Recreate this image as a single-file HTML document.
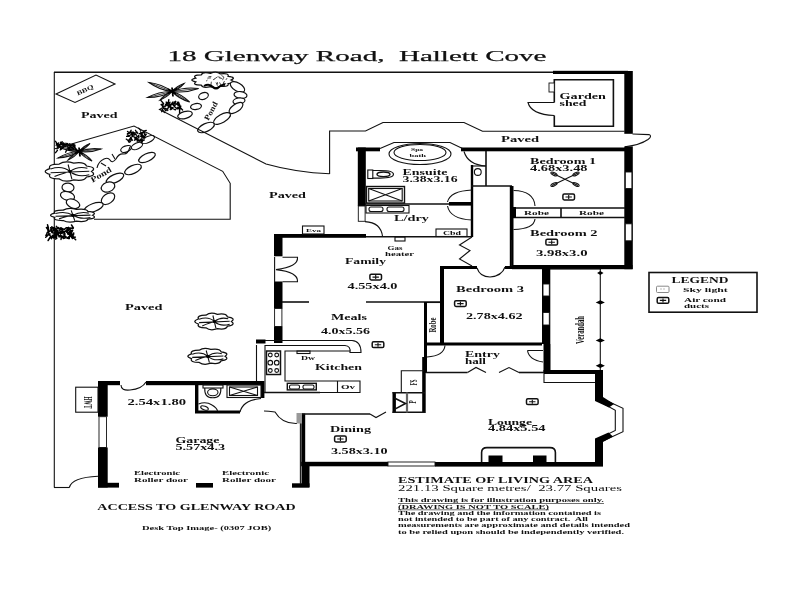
<!DOCTYPE html>
<html>
<head>
<meta charset="utf-8">
<title>18 Glenway Road, Hallett Cove</title>
<style>
html,body{margin:0;padding:0;background:#fff;}
body{width:800px;height:600px;overflow:hidden;font-family:"Liberation Serif",serif;}
svg{display:block;filter:blur(0.35px);}
text{font-family:"Liberation Serif",serif;fill:#111;}
.b{font-weight:bold;}
.w{fill:#000;stroke:none;}
.l{fill:none;stroke:#111;stroke-width:1.1;}
.m{fill:none;stroke:#111;stroke-width:1.6;}
.k{fill:none;stroke:#000;stroke-width:2.4;}
.wh{fill:#fff;stroke:#111;stroke-width:0.9;}
.st{fill:#fff;stroke:#111;stroke-width:1.2;}
</style>
</head>
<body>
<svg width="800" height="600" viewBox="0 0 800 600">
<rect x="0" y="0" width="800" height="600" fill="#fff"/>

<!-- TITLE -->
<text x="167.5" y="61" font-size="15.5" stroke="#111" stroke-width="0.25" textLength="379" lengthAdjust="spacingAndGlyphs" xml:space="preserve">18 Glenway Road,  Hallett Cove</text>

<!-- SITE BOUNDARY -->
<g id="site">
<path class="m" d="M54 72.3 H626"/>
<path class="l" d="M54.3 72 V487.5" stroke-width="1.35"/>
<path class="l" d="M54 487.5 H69.5"/>
<path class="l" d="M69.3 487.5 Q72 477.5 98 476.3"/>
</g>

<!-- SECTION: GARDEN -->
<g id="garden">
<path d="M231.0 80.0 Q237.0 82.6 228.1 83.6 Q229.4 87.1 220.5 86.1 Q216.6 89.3 210.4 86.7 Q202.6 88.5 201.2 85.1 Q191.9 85.1 195.7 81.9 Q188.0 80.0 195.7 78.1 Q191.9 74.9 201.2 74.9 Q202.6 71.5 210.4 73.3 Q216.6 70.7 220.5 73.9 Q229.4 72.9 228.1 76.4 Q237.0 77.4 231.0 80.0Z" fill="#fff" stroke="#111" stroke-width="1.25"/>
<path d="M207.2 80.3 l-0.8 0.6 M217.3 77.0 l-2.9 2.0 M207.7 78.1 l3.0 -0.2 M222.7 79.8 l0.8 -2.1 M217.5 82.6 l0.1 1.4 M218.5 76.9 l1.5 0.5 M208.8 76.7 l2.2 -0.2 M219.7 82.7 l1.3 2.5 M211.3 82.1 l-0.3 2.6 M223.9 77.2 l-2.2 -1.7 M226.1 79.6 l0.8 -1.2 M214.2 79.2 l-0.9 0.5 M216.2 82.8 l1.1 2.6 M223.3 83.4 l1.0 -2.0 M223.4 83.3 l2.4 0.4 M219.6 78.0 l2.0 0.4" stroke="#000" stroke-width="0.7" fill="none" stroke-linecap="round"/>
<ellipse class="st" cx="237.5" cy="87" rx="8" ry="4" transform="rotate(30 237.5 87)"/>
<ellipse class="st" cx="240.5" cy="95" rx="6.5" ry="3.4" transform="rotate(8 240.5 95)"/>
<ellipse class="st" cx="239" cy="101" rx="6" ry="3" transform="rotate(-8 239 101)"/>
<ellipse class="st" cx="236" cy="108" rx="8" ry="3.8" transform="rotate(-35 236 108)"/>
<ellipse class="st" cx="222" cy="118.5" rx="9.5" ry="4" transform="rotate(-30 222 118.5)"/>
<ellipse class="st" cx="206" cy="127.5" rx="9" ry="4" transform="rotate(-25 206 127.5)"/>
<ellipse class="st" cx="185" cy="115" rx="7.5" ry="3.5" transform="rotate(-15 185 115)"/>
<ellipse class="st" cx="196" cy="106.5" rx="5.5" ry="3" transform="rotate(-10 196 106.5)"/>
<ellipse class="st" cx="203.5" cy="96" rx="5" ry="3.3" transform="rotate(-20 203.5 96)"/>
<path d="M204 86 q5 -3 9 1 q3 3 6 0 q3 -3 6 -2" stroke="#000" stroke-width="2" fill="none"/>
<path d="M172 91.5 Q161.7 84.0 149 82.5 Q159.3 90.0 172 91.5Z" fill="#fff" stroke="#111" stroke-width="1.15"/><path d="M172 91.5 L149 82.5" stroke="#111" stroke-width="0.8" fill="none"/><path d="M172 91.5 Q159.0 91.3 147.5 97.5 Q160.5 97.7 172 91.5Z" fill="#fff" stroke="#111" stroke-width="1.15"/><path d="M172 91.5 L147.5 97.5" stroke="#111" stroke-width="0.8" fill="none"/><path d="M172 91.5 Q185.6 93.4 198.5 88.5 Q184.9 86.6 172 91.5Z" fill="#fff" stroke="#111" stroke-width="1.15"/><path d="M172 91.5 L198.5 88.5" stroke="#111" stroke-width="0.8" fill="none"/><path d="M172 91.5 Q179.4 99.0 189.5 102 Q182.1 94.5 172 91.5Z" fill="#fff" stroke="#111" stroke-width="1.15"/><path d="M172 91.5 L189.5 102" stroke="#111" stroke-width="0.8" fill="none"/><path d="M172 91.5 Q179.0 89.1 184 83.5 Q177.0 85.9 172 91.5Z" fill="#fff" stroke="#111" stroke-width="1.15"/><path d="M172 91.5 L184 83.5" stroke="#111" stroke-width="0.8" fill="none"/><path d="M172 91.5 Q164.9 94.2 160 100 Q167.1 97.3 172 91.5Z" fill="#fff" stroke="#111" stroke-width="1.15"/><path d="M172 91.5 L160 100" stroke="#111" stroke-width="0.8" fill="none"/><path d="M168 89.0 L176 94.0 M168 93.5 L177 88.5 M172 87.5 L173 96.5" stroke="#000" stroke-width="1.8" fill="none"/>
<path d="M167.7 102.5 l2.1 2.9 M163.8 108.4 l-0.5 -2.1 M167.9 108.2 l2.2 -2.7 M174.3 102.4 l1.3 -1.0 M179.6 109.8 l0.0 3.0 M168.2 102.6 l0.6 -2.8 M165.9 105.3 l0.7 -2.1 M162.8 108.9 l-1.1 2.8 M179.9 105.0 l-0.2 0.1 M174.9 106.8 l0.4 0.7 M180.8 106.1 l-0.4 1.3 M166.8 104.4 l2.9 0.1 M173.0 102.1 l-0.5 0.5 M162.4 106.9 l0.8 -2.6 M174.5 105.7 l1.1 -0.9 M176.1 107.9 l-2.9 -2.6 M175.5 109.7 l-1.5 -0.3 M173.9 104.6 l-0.8 -1.1 M169.4 106.8 l-1.2 -0.7 M177.4 102.2 l0.4 1.4 M168.2 103.8 l1.8 -1.6 M165.7 105.5 l1.2 -2.4 M168.4 104.7 l2.0 -0.4 M179.1 103.4 l-1.0 0.9 M179.7 105.6 l-1.6 -2.3 M172.6 103.5 l1.8 2.0 M165.7 104.2 l1.8 0.9 M178.1 104.8 l-2.2 -1.2 M177.9 104.2 l-0.9 -0.5 M170.4 105.3 l2.5 -2.1 M162.1 109.5 l2.3 2.9 M170.7 109.6 l2.6 -1.7 M176.9 108.7 l1.0 0.1 M167.8 104.7 l-1.6 -2.6 M173.8 104.3 l1.9 -2.7 M180.1 107.5 l2.5 2.4 M180.0 106.6 l-2.9 1.5 M165.4 104.4 l1.0 0.1 M170.3 109.5 l0.7 -1.0 M167.0 108.9 l-0.1 1.7 M169.0 103.6 l0.2 1.9 M165.4 108.3 l2.5 1.8 M178.5 102.1 l0.8 2.2 M163.0 104.2 l-1.4 0.2 M170.5 105.8 l1.7 -3.0 M163.1 103.0 l-2.3 -2.6 M181.5 108.8 l-2.5 0.0 M168.3 104.5 l-0.9 0.9 M173.7 104.9 l-1.9 -1.0 M164.5 106.4 l1.3 -0.7 M163.6 103.4 l-0.8 0.6 M177.7 105.0 l1.8 0.7 M170.6 105.0 l-0.0 1.2 M170.4 107.6 l-0.2 -1.5 M172.7 107.6 l-2.6 -0.5 M170.5 109.0 l2.6 -0.8 M180.0 108.3 l-1.4 -0.2 M164.5 108.5 l1.0 2.3 M177.8 107.3 l1.4 0.4 M164.1 106.7 l-3.0 -2.1" stroke="#000" stroke-width="1.4" fill="none" stroke-linecap="round"/>
<text x="201" y="113.6" font-size="8" class="b" textLength="20" lengthAdjust="spacingAndGlyphs" transform="rotate(-62 211 111)">Pond</text>
<ellipse class="st" cx="148" cy="139.5" rx="7" ry="3" transform="rotate(-25 148 139.5)"/>
<ellipse class="st" cx="137" cy="146" rx="6" ry="3" transform="rotate(-25 137 146)"/>
<ellipse class="st" cx="126" cy="149" rx="5.5" ry="3" transform="rotate(-20 126 149)"/>
<ellipse class="st" cx="147" cy="157.5" rx="9" ry="3.8" transform="rotate(-25 147 157.5)"/>
<ellipse class="st" cx="133" cy="169.5" rx="9" ry="4" transform="rotate(-25 133 169.5)"/>
<ellipse class="st" cx="115" cy="178.5" rx="9.5" ry="4" transform="rotate(-25 115 178.5)"/>
<ellipse class="st" cx="108" cy="187" rx="7" ry="4.8" transform="rotate(-20 108 187)"/>
<ellipse class="st" cx="108" cy="198.7" rx="7.5" ry="4.8" transform="rotate(-35 108 198.7)"/>
<ellipse class="st" cx="93.7" cy="207.5" rx="10" ry="4" transform="rotate(-20 93.7 207.5)"/>
<ellipse class="st" cx="68" cy="187.5" rx="6" ry="4.4" transform="rotate(5 68 187.5)"/>
<ellipse class="st" cx="67.5" cy="196" rx="7.2" ry="4.3" transform="rotate(15 67.5 196)"/>
<ellipse class="st" cx="73" cy="203.7" rx="7" ry="4.3" transform="rotate(22 73 203.7)"/>
<path d="M141.0 130.5 l-2.4 -2.4 M143.1 132.1 l-2.9 2.0 M127.9 140.1 l1.0 2.0 M144.5 136.9 l1.8 -2.8 M140.8 136.1 l1.3 -2.4 M140.5 141.2 l-2.6 -1.1 M136.8 139.9 l-1.5 -1.9 M130.5 137.4 l1.5 -0.6 M132.8 134.8 l-0.9 -0.5 M127.2 136.0 l2.8 -0.5 M140.4 131.9 l1.1 1.5 M139.0 136.2 l-0.1 0.9 M143.4 131.8 l-2.4 1.5 M143.8 136.2 l-0.3 1.3 M129.2 133.2 l-1.8 0.5 M131.8 132.8 l1.1 2.7 M131.4 138.5 l-0.5 2.1 M137.2 133.2 l-1.7 -2.9 M135.1 134.6 l-2.0 -0.8 M131.9 139.3 l-2.1 2.9 M135.1 137.2 l-0.2 2.0 M141.9 136.7 l-0.1 1.3 M142.6 134.8 l1.4 2.8 M134.8 132.8 l-1.6 1.3 M139.0 141.5 l2.1 -1.5 M129.3 133.1 l-1.9 1.2 M142.7 140.8 l-1.5 2.2 M131.8 135.1 l1.4 -2.5 M127.4 140.0 l-1.2 -0.9 M137.1 138.1 l-3.0 -1.0 M134.2 135.8 l-1.7 0.5 M144.6 134.7 l0.3 -2.3 M131.0 138.0 l-2.3 2.3 M143.7 131.2 l2.6 -0.8 M140.9 139.1 l-1.2 1.1 M138.6 139.7 l-1.4 1.5 M144.7 138.1 l0.2 -2.3 M135.4 134.2 l1.3 1.1 M136.8 132.2 l0.9 0.8 M129.1 140.7 l0.9 -2.3 M144.1 131.7 l-1.0 1.3 M137.4 136.7 l0.9 -0.3 M131.7 132.1 l-2.6 1.3 M140.6 136.5 l1.4 -0.8 M130.8 134.6 l2.2 -2.7 M135.6 133.0 l1.6 -0.9 M132.2 134.8 l0.2 1.6 M132.6 140.2 l-2.3 -1.4 M127.5 131.4 l1.7 1.4 M129.2 132.3 l-0.5 1.5 M141.8 139.0 l0.6 -2.1 M133.5 132.3 l0.2 0.4 M129.5 133.0 l1.7 -2.8 M141.6 140.7 l2.7 -0.7 M136.6 137.0 l0.8 2.9 M139.2 133.6 l2.2 -0.1 M137.5 138.7 l-3.0 1.6 M138.7 135.9 l0.1 -0.2 M129.4 136.4 l-2.8 0.0 M138.4 135.3 l0.4 2.8" stroke="#000" stroke-width="1.3" fill="none" stroke-linecap="round"/>
<path d="M79 151.5 Q68.7 145.9 57 146 Q67.3 151.6 79 151.5Z" fill="#fff" stroke="#111" stroke-width="1.15"/><path d="M79 151.5 L57 146" stroke="#111" stroke-width="0.8" fill="none"/><path d="M79 151.5 Q90.3 153.1 101 149 Q89.7 147.4 79 151.5Z" fill="#fff" stroke="#111" stroke-width="1.15"/><path d="M79 151.5 L101 149" stroke="#111" stroke-width="0.8" fill="none"/><path d="M79 151.5 Q84.3 157.9 92 161 Q86.7 154.6 79 151.5Z" fill="#fff" stroke="#111" stroke-width="1.15"/><path d="M79 151.5 L92 161" stroke="#111" stroke-width="0.8" fill="none"/><path d="M79 151.5 Q67.7 152.0 58 158 Q69.3 157.5 79 151.5Z" fill="#fff" stroke="#111" stroke-width="1.15"/><path d="M79 151.5 L58 158" stroke="#111" stroke-width="0.8" fill="none"/><path d="M79 151.5 Q85.5 148.9 90 143.5 Q83.5 146.1 79 151.5Z" fill="#fff" stroke="#111" stroke-width="1.15"/><path d="M79 151.5 L90 143.5" stroke="#111" stroke-width="0.8" fill="none"/><path d="M79 151.5 Q72.4 154.3 68 160 Q74.6 157.2 79 151.5Z" fill="#fff" stroke="#111" stroke-width="1.15"/><path d="M79 151.5 L68 160" stroke="#111" stroke-width="0.8" fill="none"/><path d="M75 149.0 L83 154.0 M75 153.5 L84 148.5 M79 147.5 L80 156.5" stroke="#000" stroke-width="1.8" fill="none"/>
<path d="M73.1 144.4 l1.8 0.7 M57.9 146.0 l-1.6 -2.5 M66.7 150.0 l-1.1 2.2 M69.5 144.4 l2.1 0.6 M73.7 148.5 l1.4 -0.9 M71.5 150.0 l2.2 -0.4 M70.6 146.9 l-2.3 -2.7 M58.4 144.9 l-2.0 -0.0 M69.6 147.3 l-0.5 0.9 M62.5 146.8 l1.5 -0.6 M60.3 149.8 l1.3 -0.8 M63.7 147.2 l0.6 -1.7 M57.0 145.0 l1.7 -2.1 M65.3 144.9 l-1.7 -2.0 M64.3 144.7 l-2.8 -2.3 M60.0 146.9 l-2.6 -2.9 M65.1 146.4 l1.2 -2.7 M64.3 146.3 l-2.8 2.8 M60.9 144.2 l-0.2 -2.0 M68.2 145.9 l-2.3 -2.7 M70.1 145.4 l1.7 -0.2 M73.8 145.6 l-1.5 -1.4 M71.7 147.9 l-0.9 -2.4 M69.3 150.3 l0.6 -3.0 M57.5 144.1 l-2.0 -2.8 M58.0 148.1 l2.4 -1.8 M74.5 146.8 l1.8 2.5 M73.9 143.7 l-1.2 0.6 M74.0 144.1 l-1.2 2.1 M59.1 146.2 l-1.0 1.1 M73.7 144.7 l1.4 1.4 M72.0 147.4 l2.5 -0.8 M64.5 145.1 l1.7 -0.1 M61.9 144.7 l1.3 0.6 M69.8 146.2 l-0.1 -2.1 M69.8 143.7 l-0.2 1.6 M69.2 144.2 l-1.6 2.1 M68.6 149.6 l2.2 -0.3 M73.1 148.6 l-1.0 -0.8 M58.3 146.3 l2.7 -2.4 M67.2 144.3 l-2.5 0.9 M61.3 143.8 l-2.1 0.9 M67.5 143.6 l-1.6 2.8 M61.0 147.4 l-0.5 1.7 M67.9 149.0 l0.2 -1.9 M60.2 144.1 l2.0 -2.3 M57.4 150.3 l-1.8 2.4 M58.5 146.8 l-1.7 2.0 M68.1 148.0 l1.6 2.2 M63.2 147.7 l-0.3 -2.3" stroke="#000" stroke-width="1.4" fill="none" stroke-linecap="round"/>
<path d="M91.5 171.5 Q97.5 175.5 86.5 177.0 Q84.6 181.5 73.7 179.9 Q64.9 182.9 59.3 178.9 Q47.6 178.9 49.8 174.4 Q40.7 171.5 49.8 168.6 Q47.6 164.1 59.2 164.1 Q64.9 160.1 73.7 163.1 Q84.6 161.5 86.5 166.0 Q97.5 167.5 91.5 171.5Z" fill="#fff" stroke="#111" stroke-width="1.25"/><path d="M50.6 168.9 Q62.3 165.1 70.0 171.5 Q77.7 177.9 89.3 174.7 M54.5 176.6 Q64.2 172.8 70.0 171.5 Q77.7 165.8 87.4 168.3 M68.1 164.5 L71.9 179.2 M50.6 172.8 L89.3 171.2" stroke="#111" stroke-width="1.1" fill="none"/><circle cx="70" cy="171.5" r="1.6" fill="#000"/>
<path class="l" d="M97 168 q1 -6 7 -9 q4 -2 6 1 q2 4 6 -1 q3 -6 8 -5 q4 0 6 -7" stroke-width="1.5"/>
<path class="l" d="M101 163 l5 3 M112 154 l3 5" stroke-width="1.3"/>
<text x="89.5" y="177.3" font-size="8" class="b" textLength="23" lengthAdjust="spacingAndGlyphs" transform="rotate(-30 101 174.6)">Pond</text>
<path d="M92.5 215.3 Q98.0 218.1 87.9 219.2 Q86.3 222.4 76.4 221.2 Q68.4 223.4 63.2 220.5 Q52.6 220.6 54.7 217.4 Q46.4 215.3 54.7 213.2 Q52.6 210.0 63.2 210.1 Q68.4 207.2 76.4 209.4 Q86.3 208.2 87.9 211.4 Q98.0 212.5 92.5 215.3Z" fill="#fff" stroke="#111" stroke-width="1.25"/><path d="M55.5 213.5 Q66.0 210.8 73.0 215.3 Q80.0 219.8 90.5 217.6 M59.0 218.9 Q67.7 216.2 73.0 215.3 Q80.0 211.2 88.8 213.1 M71.2 210.4 L74.8 220.7 M55.5 216.2 L90.5 215.1" stroke="#111" stroke-width="1.1" fill="none"/><circle cx="73" cy="215.3" r="1.6" fill="#000"/>
<path d="M69.4 234.0 l1.9 -1.8 M61.1 232.6 l1.4 -2.5 M55.7 232.8 l-2.6 0.3 M66.6 232.2 l0.9 0.6 M52.0 231.4 l3.0 -1.0 M58.1 228.4 l-1.7 -2.0 M72.1 235.5 l2.2 2.9 M63.1 237.7 l0.2 -0.5 M72.5 237.4 l2.7 -0.1 M67.7 232.0 l3.0 2.5 M54.2 237.8 l-1.9 -2.4 M66.2 230.7 l0.1 0.8 M47.1 235.7 l-1.3 -0.4 M55.7 235.7 l1.5 -1.3 M48.9 230.8 l-0.5 -2.5 M50.3 235.9 l1.2 2.9 M73.4 237.1 l-0.8 -2.0 M54.7 232.6 l0.2 0.3 M56.1 236.9 l-1.3 -0.2 M70.8 236.4 l-1.2 -1.5 M68.6 227.6 l-2.2 0.2 M61.0 229.3 l-2.7 -1.8 M67.6 232.6 l2.9 1.7 M73.4 227.9 l-1.9 -2.9 M58.1 231.2 l-2.7 0.3 M48.6 230.9 l-1.5 1.8 M57.7 230.4 l-2.7 -0.4 M63.6 234.9 l2.5 1.9 M52.9 229.0 l1.5 1.7 M60.2 236.6 l0.3 -1.3 M50.7 227.7 l0.9 2.4 M71.4 232.6 l1.0 2.6 M68.8 234.1 l-0.5 0.1 M50.8 229.5 l1.1 3.0 M61.3 232.0 l-0.9 -0.3 M68.5 232.5 l2.8 -2.1 M54.8 233.2 l-0.5 2.1 M69.2 237.7 l0.7 -2.8 M62.1 233.5 l-0.1 -1.3 M65.9 237.5 l-2.4 1.0 M56.4 233.2 l2.4 2.8 M64.0 229.6 l2.5 -1.9 M56.7 236.6 l-1.1 -1.4 M72.6 237.9 l-1.1 -0.6 M53.9 228.9 l-1.5 2.9 M48.2 230.0 l-1.8 -2.5 M60.7 235.7 l2.0 0.8 M68.9 227.6 l-1.3 2.8 M47.9 230.4 l-0.1 -1.4 M61.3 228.0 l-1.6 2.7 M50.0 237.5 l-1.9 3.0 M64.9 234.6 l-2.1 -2.7 M67.3 229.4 l-1.9 1.9 M70.5 228.0 l2.8 0.2 M56.7 228.7 l-0.7 2.9 M53.9 228.9 l-2.1 -2.2 M55.9 237.6 l-2.5 -1.8 M72.3 238.5 l2.9 -1.5 M55.9 238.0 l-0.1 1.2 M54.8 227.7 l-0.9 1.5 M67.9 233.8 l-0.2 0.2 M58.4 233.4 l2.0 -1.8 M62.6 237.8 l2.1 -1.9 M73.0 236.7 l-2.0 -1.4 M51.7 228.1 l2.9 -0.5 M70.4 228.8 l-2.9 2.2 M68.2 238.4 l1.1 0.2 M67.4 228.5 l0.2 -0.4 M50.1 234.1 l-1.1 0.0 M56.5 231.0 l-0.8 0.6 M73.5 237.8 l2.2 2.0 M54.0 238.2 l-1.4 -2.3 M60.0 235.6 l-1.0 0.9 M53.9 238.1 l-0.3 -0.1 M60.9 237.1 l2.9 0.2 M58.4 234.3 l-2.6 -0.4 M69.7 236.1 l-2.6 2.1 M56.8 238.3 l-0.8 -1.7 M61.4 237.2 l-0.4 2.2 M65.9 231.5 l-1.2 0.0 M57.2 231.6 l0.9 2.3 M62.4 229.1 l-1.7 -0.8 M63.2 229.0 l-2.5 -1.1 M53.9 227.8 l0.2 2.5 M61.0 235.6 l2.0 2.0 M71.6 232.4 l1.1 -2.3 M70.6 231.7 l-0.1 2.3 M54.0 229.6 l1.9 0.6 M48.4 227.8 l-0.9 -3.0 M69.3 229.5 l-1.4 -0.7 M60.3 232.3 l0.8 1.0 M58.2 228.6 l2.9 1.1 M48.3 232.4 l1.5 3.0 M47.8 227.6 l-0.1 -0.5 M71.0 236.6 l-1.0 -0.5 M62.3 237.2 l-1.8 -0.6 M48.5 234.6 l-2.8 2.6 M60.7 233.8 l-2.5 -1.6 M59.1 236.9 l0.2 -1.3 M73.5 234.8 l0.2 -1.8 M54.4 237.4 l-2.2 0.2 M63.4 231.4 l1.6 2.5 M70.0 235.6 l-1.8 -2.6 M58.1 230.9 l-1.8 2.2 M52.0 236.6 l2.6 -2.3 M71.6 231.9 l-1.7 -1.9 M47.1 233.0 l-0.7 2.1 M69.3 228.1 l-0.6 -0.7 M51.0 230.3 l-1.4 1.2 M55.5 228.7 l-1.7 -0.3" stroke="#000" stroke-width="1.5" fill="none" stroke-linecap="round"/>
<path d="M231.4 321.5 Q236.2 324.9 227.4 326.2 Q226.0 330.1 217.4 328.7 Q210.4 331.3 205.9 327.8 Q196.7 327.9 198.4 324.0 Q191.2 321.5 198.4 319.0 Q196.7 315.1 205.9 315.2 Q210.4 311.7 217.4 314.3 Q226.0 312.9 227.4 316.8 Q236.2 318.1 231.4 321.5Z" fill="#fff" stroke="#111" stroke-width="1.25"/><path d="M199.1 319.3 Q208.3 316.0 214.4 321.5 Q220.5 327.0 229.7 324.2 M202.2 325.9 Q209.8 322.6 214.4 321.5 Q220.5 316.6 228.2 318.8 M212.9 315.5 L215.9 328.1 M199.1 322.6 L229.7 321.2" stroke="#111" stroke-width="1.1" fill="none"/><circle cx="214.4" cy="321.5" r="1.6" fill="#000"/>
<path d="M225.1 356.3 Q230.0 359.6 221.1 360.8 Q219.6 364.6 210.8 363.2 Q203.7 365.7 199.2 362.4 Q189.7 362.4 191.5 358.7 Q184.2 356.3 191.5 353.9 Q189.7 350.2 199.2 350.2 Q203.7 346.9 210.8 349.4 Q219.6 348.0 221.1 351.8 Q230.0 353.0 225.1 356.3Z" fill="#fff" stroke="#111" stroke-width="1.25"/><path d="M192.2 354.2 Q201.6 351.1 207.8 356.3 Q214.0 361.6 223.4 358.9 M195.3 360.5 Q203.1 357.4 207.8 356.3 Q214.0 351.6 221.8 353.7 M206.2 350.5 L209.4 362.6 M192.2 357.4 L223.4 356.0" stroke="#111" stroke-width="1.1" fill="none"/><circle cx="207.8" cy="356.3" r="1.6" fill="#000"/>
</g>

<!-- SECTION: PAVED OUTLINE -->
<g id="paved">
<!-- paved lane outline north of house -->
<path class="l" d="M329.6 174 V131 H365.5 L383 122.5 H464 L482.5 131.3 H624.5"/>
<!-- bed 1 diagonal -->
<path class="l" d="M170 103.5 L159.5 109.5 L266 164 Q296 172.5 329.6 173.7"/>
<!-- bed 2 outline -->
<path class="l" d="M54 149 L134 126 L222.7 171.3 L230.2 183.3 V219.2 H94" stroke-width="1.3"/>
<!-- BBQ -->
<path class="l" d="M56 94 L96 75 L115 84 L75 102.5 Z"/>
<text x="85" y="92" font-size="6" text-anchor="middle" transform="rotate(-25 85 90)" textLength="18" lengthAdjust="spacingAndGlyphs" class="b">BBQ</text>
</g>

<!-- SECTION: SHED -->
<g id="shed">
<path class="m" d="M554.3 102.5 V79.7 H613.4 V126.2 H554.3 V115.5"/>
<rect class="wh" x="549" y="83" width="5.3" height="9" stroke-width="1.2"/>
<path class="l" d="M554.3 102.5 H528 Q531 114.5 554.3 115.5" stroke-width="1.3"/>
<!-- gate arc at east end of lane -->
<path class="l" d="M632.5 134 L649 134.6 Q652.5 136 648 139.5 Q640 145 625 146.8" stroke-width="1.3"/>
</g>

<!-- SECTION: WALLS -->
<g id="walls">
<!-- east boundary / right thick wall -->
<rect class="w" x="624.3" y="71" width="8.5" height="62.8"/>
<rect class="w" x="553" y="70.8" width="75" height="3.2"/>
<rect class="w" x="624.3" y="146.4" width="8.5" height="122.8"/>
<rect class="wh" x="625.3" y="172" width="6.6" height="16.5" stroke="#555"/>
<rect class="wh" x="625.3" y="223.8" width="6.6" height="17" stroke="#555"/>
<!-- north wall of house -->
<rect class="w" x="356" y="147.5" width="24" height="3.8"/>
<rect class="w" x="461" y="147.5" width="171" height="3.8"/>
<!-- ensuite west wall -->
<rect class="w" x="357.8" y="147.5" width="8" height="58.5"/>
<rect class="wh" x="358.3" y="206" width="6.8" height="15.3"/>
<!-- ensuite / laundry partition -->
<path class="m" d="M365 204 H449"/>
<rect class="w" x="449" y="202" width="23" height="3.6"/>
<!-- bedroom2 south wall -->
<rect class="w" x="512" y="265" width="120.5" height="4.2"/>
<!-- family north wall -->
<rect class="w" x="274" y="234" width="92" height="3.8"/>
<path class="m" d="M366 236.8 H471"/>
<!-- family west wall -->
<rect class="w" x="274" y="234" width="8.5" height="22.3"/>
<rect class="w" x="274" y="281.5" width="8.5" height="27"/>
<rect class="wh" x="274.6" y="308.5" width="7.3" height="18"/>
<rect class="w" x="274" y="326.5" width="8.5" height="16.5"/>
<!-- family/meals stubs -->
<path class="m" d="M282 302 H309"/>
<path class="m" d="M366 302 H440"/>
<!-- hall walls -->
<path class="k" d="M472 186 V237"/>
<path class="k" d="M472 186 V165"/>
<path class="m" d="M486 151 V186"/>
<path class="m" d="M471 186 H512"/>
<rect class="w" x="509.8" y="186" width="3.7" height="80"/>
<!-- robes -->
<path class="m" d="M513 208 H625 M513 217.5 H625 M561 208 V217.5"/>
<rect class="w" x="513" y="207" width="3" height="11"/>
<!-- bedroom 3 -->
<rect class="w" x="440" y="266" width="37" height="3"/>
<rect class="w" x="505" y="266" width="40" height="3"/>
<rect class="w" x="440" y="266" width="4" height="78"/>
<rect class="w" x="424" y="342.5" width="118" height="3"/>
<rect class="w" x="542" y="266" width="8.3" height="78"/>
<rect class="wh" x="543" y="284" width="6.3" height="12"/>
<rect class="wh" x="543" y="312.5" width="6.3" height="12.5"/>
<rect class="w" x="543.5" y="344" width="7" height="28"/>
<!-- robe bed3 -->
<rect class="w" x="424" y="302" width="3" height="71"/>
<path class="l" d="M427 302.5 H440"/>
<!-- verandah -->
<path class="l" d="M550 269 H601"/>
<path class="l" d="M600.3 269 V370" stroke-width="1.4"/>
<path class="w" d="M600.3 271 l3.2 2 l-3.2 2 l-3.2 -2z M600.3 300.2 l4.6 2.2 l-4.6 2.2 l-4.6 -2.2z M600.3 338.2 l4.6 2.2 l-4.6 2.2 l-4.6 -2.2z M600.3 363.6 l4.6 2.2 l-4.6 2.2 l-4.6 -2.2z"/>
<rect class="w" x="543.5" y="370" width="59.5" height="4"/>
<path class="l" d="M544 374 V382.5 H595"/>
<!-- lounge east wall + bay -->
<rect class="w" x="595" y="370" width="8" height="29"/>
<rect class="w" x="595" y="440" width="8" height="26"/>
<path class="l" d="M603 399 L623 408.3 V431.7 L603.5 440.7" stroke-width="1.7"/>
<path class="l" d="M596 399.5 L615.3 410.2 V430.4 L597 439.5" stroke-width="1.7"/>
<path class="w" d="M595 397 L603 397 L614 404 L609 407.5 L595 401Z"/>
<path class="w" d="M595 442 L603 442 L613 436.5 L608.5 432.5 L595 438.5Z"/>
<!-- lounge south wall -->
<rect class="w" x="435" y="462" width="168" height="4.6"/>
<rect class="w" x="301.3" y="461.8" width="87" height="4.5"/>
<rect class="wh" x="388" y="462" width="47" height="4"/>
<!-- dining west wall -->
<rect class="w" x="301.3" y="413.5" width="3.9" height="52"/>
<path class="m" d="M300 414 H370"/>
<path class="l" d="M370 414 L376 417.5 L386 412"/>
<!-- entry hall -->
<path class="m" d="M426 372.5 H467.5"/>
<path class="l" d="M467.5 372.5 L476 367.5 L486 372.5"/>
<path class="l" d="M499 372.5 L509 367.5 L519 372.5"/>
<path class="m" d="M519 372.5 H544"/>
<!-- meals/kitchen east wall -->
<rect class="w" x="422.2" y="357" width="3.5" height="56"/>
<!-- FS and P -->
<path class="l" d="M424 370.8 H401.3 V392.5 H424"/>
<rect class="w" x="392.5" y="392" width="3.4" height="21"/>
<path class="m" d="M392.5 392.8 H425 M392.5 412.3 H425" stroke-width="1.9"/>
<path d="M407 392.5 V412.5" stroke="#666" stroke-width="2.2" fill="none"/>
<!-- garage -->
<rect class="w" x="98" y="381" width="22" height="4.2"/>
<rect class="w" x="146" y="381" width="118" height="4.2"/>
<rect class="w" x="98" y="381" width="9.7" height="35.7"/>
<rect class="wh" x="99" y="416.7" width="7.5" height="30.8"/>
<rect class="w" x="98" y="447.5" width="9.7" height="40"/>
<rect class="w" x="98" y="482.8" width="21" height="4.8"/>
<rect class="w" x="196" y="483" width="17" height="4.6"/>
<rect class="w" x="292" y="483.3" width="17.5" height="4.4"/>
<rect class="w" x="301.5" y="465" width="8" height="22"/>
<path class="l" d="M300.4 414 V484"/>
<!-- wc / shower -->
<rect class="w" x="195" y="381" width="3.4" height="32"/>
<rect class="w" x="195" y="410.5" width="45" height="3"/>
<rect class="w" x="261" y="381" width="3.4" height="17"/>
<!-- kitchen -->
<path class="l" d="M256.5 345 V381 M265 392.5 H360 V381 H285 V351 H350"/>
<path class="l" d="M265 345 V392.5"/>
<rect class="w" x="256" y="339.5" width="9.5" height="4"/>
<path class="l" d="M265 340.5 H352 Q361 341 361 352.5 H350 Q351 346 345 345.5 H265"/>
<path class="l" d="M337.5 381 V392.5"/>
<path class="m" d="M264 392.5 H320"/>
</g>

<!-- SECTION: FIXTURES -->
<g id="fixtures">
<!-- spa bath bay -->
<path class="l" d="M380 148.5 L394 142.5 H450 L462.5 148.5"/>
<ellipse class="l" cx="420" cy="154" rx="31" ry="10.5"/>
<ellipse class="l" cx="420" cy="152.5" rx="26" ry="8"/>
<!-- ensuite toilet -->
<rect class="l" x="367.8" y="170" width="5" height="8.5"/>
<path class="l" d="M372.8 170.5 H380 Q393.5 170.5 393.5 174.3 Q393.5 178.1 380 178.1 H372.8"/>
<ellipse cx="383.5" cy="174.3" rx="6.5" ry="2.3" fill="none" stroke="#111" stroke-width="1.4"/>
<!-- ensuite shower -->
<rect x="366.5" y="186.5" width="38" height="16.5" fill="#fff" stroke="#111" stroke-width="1.4"/>
<rect class="l" x="368.7" y="188.5" width="33.5" height="12.5"/>
<path class="l" d="M368.7 188.5 L402.2 201 M402.2 188.5 L368.7 201"/>
<!-- laundry tubs -->
<rect class="l" x="366" y="205.5" width="43" height="7.5"/>
<rect class="l" x="369" y="207" width="14" height="4.5" rx="2"/>
<rect class="l" x="387" y="207" width="17" height="4.5" rx="2"/>
<!-- laundry outside door -->
<path class="l" d="M365 221.6 Q381 222.3 382.6 236.8"/>
<!-- Cbd -->
<rect class="l" x="436" y="229" width="31" height="7.5"/>
<!-- Evap box on family roof -->
<rect class="l" x="302.5" y="226" width="21.5" height="8"/>
<!-- gas heater -->
<rect class="l" x="395" y="237" width="10" height="4"/>
<!-- family double doors -->
<path class="l" d="M274.6 257 V282.5"/>
<path class="l" d="M282.5 257.3 H297.5 Q298.5 267 276 269.6 Q298.5 272 297.5 281.8 H282.5" stroke-width="1.3"/>
<!-- vanity -->
<circle class="l" cx="477.8" cy="172" r="3.4"/>
<path class="l" d="M473 166 H486"/>
<!-- bed1/ensuite door -->
<path class="l" d="M464 151.5 Q468 165 486 166"/>
<!-- hall doors -->
<path class="l" d="M447.5 202 Q450 191 472 190"/>
<path class="l" d="M447.5 206 Q450 219 472 220"/>
<path class="l" d="M513.5 190.5 Q534 191 535 206"/>
<path class="l" d="M535 219 Q534 229 513.5 229.5"/>
<!-- hall bifold zigzag -->
<path class="l" d="M472 237 L459.5 245 L470 250.5 L459.5 259 L472 266"/>
<!-- bed3 door -->
<path class="l" d="M477 268 Q480 277 490 277 Q502 276 505 267"/>
<path class="l" d="M511.5 240 V266"/>
<!-- entry hall doors -->
<path class="l" d="M445 345.5 Q444 356 427 357"/>
<path class="l" d="M527.5 350.5 H543 M527.5 350.5 Q529 360 543 362"/>
<!-- fireplace -->
<path class="m" d="M481.6 462 V452.5 Q481.6 447.6 487 447.6 H550 Q555.4 447.6 555.4 452.5 V462"/>
<rect class="w" x="488.5" y="455.5" width="14" height="7"/>
<rect class="w" x="533" y="455.5" width="13.5" height="7"/>
<!-- P bifold -->
<path class="m" d="M394.4 398 L405.5 403.5 L394.4 409.4" stroke-width="1.8"/>
<!-- garage door (to yard) -->
<path class="l" d="M121 385 Q121 391 130 390 Q142 389 146 382"/>
<!-- HWT -->
<rect class="l" x="75.7" y="387.2" width="22.3" height="25" stroke-width="1.3"/>
<!-- WC -->
<rect class="l" x="203" y="385" width="20" height="3"/>
<path class="l" d="M204.8 388 Q204 397.8 212.8 397.8 Q221.6 397.8 220.8 388"/>
<ellipse class="l" cx="212.8" cy="392.3" rx="5.2" ry="3.4"/>
<path class="l" d="M198.5 404 Q206 401 212 405 Q217 408 217.5 411"/>
<ellipse class="l" cx="204.5" cy="408" rx="4" ry="1.8" transform="rotate(20 204.5 408)"/>
<!-- shower -->
<rect class="l" x="227" y="385" width="34" height="12.5"/>
<rect class="l" x="229.5" y="387" width="28" height="8.5"/>
<path class="l" d="M229.5 387 L257.5 395.5 M257.5 387 L229.5 395.5"/>
<!-- bath doors -->
<path class="l" d="M240 412 Q243 400 261 398.5"/>
<path class="l" d="M264 411 Q268 411 275 412 Q282 424 297 423.5"/>
<rect x="296.5" y="413" width="5.5" height="10.5" fill="#999"/>
<!-- cooktop -->
<rect x="266.5" y="351" width="14" height="23.5" fill="#fff" stroke="#111" stroke-width="1.5"/>
<circle class="l" cx="270.3" cy="355" r="1.9"/><circle class="l" cx="276.7" cy="355" r="1.9"/>
<circle class="l" cx="270.3" cy="362.7" r="2.3"/><circle class="l" cx="276.7" cy="362.7" r="2.3"/>
<circle class="l" cx="270.3" cy="370.5" r="1.9"/><circle class="l" cx="276.7" cy="370.5" r="1.9"/>
<!-- dw -->
<rect class="l" x="297" y="351" width="13" height="2.5"/>
<!-- sink -->
<rect x="287.3" y="383.3" width="29" height="6.6" fill="#fff" stroke="#111" stroke-width="1.4"/>
<rect class="l" x="289.5" y="385" width="10" height="4" rx="1.5"/>
<rect class="l" x="303" y="385" width="11" height="4" rx="1.5"/>
<g transform="translate(568.7 197)"><rect x="-5.8" y="-2.9" width="11.6" height="5.8" rx="1.4" fill="#fff" stroke="#111" stroke-width="1.5"/><path d="M-3.2 0 H3.2 M0 -2 V2" stroke="#111" stroke-width="1.1" fill="none"/></g>
<g transform="translate(551.7 242.2)"><rect x="-5.8" y="-2.9" width="11.6" height="5.8" rx="1.4" fill="#fff" stroke="#111" stroke-width="1.5"/><path d="M-3.2 0 H3.2 M0 -2 V2" stroke="#111" stroke-width="1.1" fill="none"/></g>
<g transform="translate(375.7 277.1)"><rect x="-5.8" y="-2.9" width="11.6" height="5.8" rx="1.4" fill="#fff" stroke="#111" stroke-width="1.5"/><path d="M-3.2 0 H3.2 M0 -2 V2" stroke="#111" stroke-width="1.1" fill="none"/></g>
<g transform="translate(378 344.7)"><rect x="-5.8" y="-2.9" width="11.6" height="5.8" rx="1.4" fill="#fff" stroke="#111" stroke-width="1.5"/><path d="M-3.2 0 H3.2 M0 -2 V2" stroke="#111" stroke-width="1.1" fill="none"/></g>
<g transform="translate(460.4 303.6)"><rect x="-5.8" y="-2.9" width="11.6" height="5.8" rx="1.4" fill="#fff" stroke="#111" stroke-width="1.5"/><path d="M-3.2 0 H3.2 M0 -2 V2" stroke="#111" stroke-width="1.1" fill="none"/></g>
<g transform="translate(532.3 401.7)"><rect x="-5.8" y="-2.9" width="11.6" height="5.8" rx="1.4" fill="#fff" stroke="#111" stroke-width="1.5"/><path d="M-3.2 0 H3.2 M0 -2 V2" stroke="#111" stroke-width="1.1" fill="none"/></g>
<g transform="translate(340.4 439)"><rect x="-5.8" y="-2.9" width="11.6" height="5.8" rx="1.4" fill="#fff" stroke="#111" stroke-width="1.5"/><path d="M-3.2 0 H3.2 M0 -2 V2" stroke="#111" stroke-width="1.1" fill="none"/></g>
<path class="l" d="M552 173 L578 185.5 M578 173 L552 185.5"/><ellipse class="l" cx="554" cy="174" rx="3.4" ry="1.3" transform="rotate(26 554 174)"/><ellipse class="l" cx="576" cy="184.5" rx="3.4" ry="1.3" transform="rotate(26 576 184.5)"/><ellipse class="l" cx="576" cy="174" rx="3.4" ry="1.3" transform="rotate(-26 576 174)"/><ellipse class="l" cx="554" cy="184.5" rx="3.4" ry="1.3" transform="rotate(-26 554 184.5)"/>
</g>

<!-- SECTION: LABELS -->
<g id="labels">
<text x="81" y="117.5" font-size="7.5" textLength="36.5" lengthAdjust="spacingAndGlyphs" class="b" xml:space="preserve">Paved</text>
<text x="269" y="197.9" font-size="7.5" textLength="37" lengthAdjust="spacingAndGlyphs" class="b" xml:space="preserve">Paved</text>
<text x="125" y="310.0" font-size="7.5" textLength="37.5" lengthAdjust="spacingAndGlyphs" class="b" xml:space="preserve">Paved</text>
<text x="501" y="142.0" font-size="7.5" textLength="38" lengthAdjust="spacingAndGlyphs" class="b" xml:space="preserve">Paved</text>
<text x="559.6" y="99.3" font-size="7.5" textLength="46.39999999999998" lengthAdjust="spacingAndGlyphs" class="b" xml:space="preserve">Garden</text>
<text x="559.6" y="105.8" font-size="7.5" textLength="26.799999999999955" lengthAdjust="spacingAndGlyphs" class="b" xml:space="preserve">shed</text>
<text x="411" y="151.2" font-size="5" textLength="12" lengthAdjust="spacingAndGlyphs" class="b" xml:space="preserve">Spa</text>
<text x="409.5" y="157.2" font-size="5" textLength="16.5" lengthAdjust="spacingAndGlyphs" class="b" xml:space="preserve">bath</text>
<text x="402.5" y="175.0" font-size="7.5" textLength="45.0" lengthAdjust="spacingAndGlyphs" class="b" xml:space="preserve">Ensuite</text>
<text x="402.5" y="182.0" font-size="7.5" textLength="55.0" lengthAdjust="spacingAndGlyphs" class="b" xml:space="preserve">3.38x3.16</text>
<text x="394" y="220.5" font-size="7.5" textLength="35" lengthAdjust="spacingAndGlyphs" class="b" xml:space="preserve">L/dry</text>
<text x="443" y="234.8" font-size="5.5" textLength="18" lengthAdjust="spacingAndGlyphs" class="b" xml:space="preserve">Cbd</text>
<text x="387.5" y="249.5" font-size="6" textLength="15.0" lengthAdjust="spacingAndGlyphs" class="b" xml:space="preserve">Gas</text>
<text x="385" y="256.0" font-size="6" textLength="29" lengthAdjust="spacingAndGlyphs" class="b" xml:space="preserve">heater</text>
<text x="345" y="263.5" font-size="7.5" textLength="41" lengthAdjust="spacingAndGlyphs" class="b" xml:space="preserve">Family</text>
<text x="347.5" y="288.5" font-size="7.5" textLength="50.0" lengthAdjust="spacingAndGlyphs" class="b" xml:space="preserve">4.55x4.0</text>
<text x="331" y="320.0" font-size="7.5" textLength="36" lengthAdjust="spacingAndGlyphs" class="b" xml:space="preserve">Meals</text>
<text x="321" y="333.5" font-size="7.5" textLength="49" lengthAdjust="spacingAndGlyphs" class="b" xml:space="preserve">4.0x5.56</text>
<text x="530" y="163.5" font-size="7.5" textLength="66" lengthAdjust="spacingAndGlyphs" class="b" xml:space="preserve">Bedroom 1</text>
<text x="530" y="170.5" font-size="7.5" textLength="57.5" lengthAdjust="spacingAndGlyphs" class="b" xml:space="preserve">4.68x3.48</text>
<text x="524" y="215.0" font-size="6" textLength="25" lengthAdjust="spacingAndGlyphs" class="b" xml:space="preserve">Robe</text>
<text x="579" y="215.0" font-size="6" textLength="25" lengthAdjust="spacingAndGlyphs" class="b" xml:space="preserve">Robe</text>
<text x="530" y="235.5" font-size="7.5" textLength="67.5" lengthAdjust="spacingAndGlyphs" class="b" xml:space="preserve">Bedroom 2</text>
<text x="536" y="255.5" font-size="7.5" textLength="51.5" lengthAdjust="spacingAndGlyphs" class="b" xml:space="preserve">3.98x3.0</text>
<text x="456" y="291.5" font-size="7.5" textLength="68" lengthAdjust="spacingAndGlyphs" class="b" xml:space="preserve">Bedroom 3</text>
<text x="466" y="318.5" font-size="7.5" textLength="56.5" lengthAdjust="spacingAndGlyphs" class="b" xml:space="preserve">2.78x4.62</text>
<text x="425.5" y="328.3" font-size="10" textLength="15" lengthAdjust="spacingAndGlyphs" class="b" transform="rotate(-90 433 325)">Robe</text>
<text x="566.3" y="334.1" font-size="12.5" textLength="28" lengthAdjust="spacingAndGlyphs" class="b" transform="rotate(-90 580.3 330)">Verandah</text>
<text x="465" y="357.0" font-size="7.5" textLength="35" lengthAdjust="spacingAndGlyphs" class="b" xml:space="preserve">Entry</text>
<text x="465" y="363.5" font-size="7.5" textLength="21" lengthAdjust="spacingAndGlyphs" class="b" xml:space="preserve">hall</text>
<text x="410.25" y="386.1" font-size="11" textLength="5.5" lengthAdjust="spacingAndGlyphs" class="b" transform="rotate(-90 413 382.5)">FS</text>
<text x="411.4" y="405.1" font-size="9.5" textLength="3.2" lengthAdjust="spacingAndGlyphs" class="b" transform="rotate(-90 413 402)">P</text>
<text x="488" y="424.8" font-size="7.5" textLength="44" lengthAdjust="spacingAndGlyphs" class="b" xml:space="preserve">Lounge</text>
<text x="488" y="431.1" font-size="7.5" textLength="57.5" lengthAdjust="spacingAndGlyphs" class="b" xml:space="preserve">4.84x5.54</text>
<text x="330" y="431.5" font-size="7.5" textLength="41" lengthAdjust="spacingAndGlyphs" class="b" xml:space="preserve">Dining</text>
<text x="331" y="453.5" font-size="7.5" textLength="56.5" lengthAdjust="spacingAndGlyphs" class="b" xml:space="preserve">3.58x3.10</text>
<text x="315" y="370.0" font-size="7.5" textLength="47" lengthAdjust="spacingAndGlyphs" class="b" xml:space="preserve">Kitchen</text>
<text x="301" y="359.8" font-size="5.5" textLength="14" lengthAdjust="spacingAndGlyphs" class="b" xml:space="preserve">Dw</text>
<text x="341" y="389.3" font-size="5.5" textLength="14" lengthAdjust="spacingAndGlyphs" class="b" xml:space="preserve">Ov</text>
<text x="306" y="232.2" font-size="5" textLength="15" lengthAdjust="spacingAndGlyphs" class="b" xml:space="preserve">Eva</text>
<text x="127.5" y="405.0" font-size="7.5" textLength="58.5" lengthAdjust="spacingAndGlyphs" class="b" xml:space="preserve">2.54x1.80</text>
<text x="175.5" y="443.3" font-size="7.5" textLength="44.0" lengthAdjust="spacingAndGlyphs" class="b" xml:space="preserve">Garage</text>
<text x="175.5" y="450.1" font-size="7.5" textLength="49.5" lengthAdjust="spacingAndGlyphs" class="b" xml:space="preserve">5.57x4.3</text>
<text x="134" y="475.2" font-size="6" textLength="46" lengthAdjust="spacingAndGlyphs" class="b" xml:space="preserve">Electronic</text>
<text x="134" y="482.2" font-size="6" textLength="54" lengthAdjust="spacingAndGlyphs" class="b" xml:space="preserve">Roller door</text>
<text x="222" y="475.2" font-size="6" textLength="47" lengthAdjust="spacingAndGlyphs" class="b" xml:space="preserve">Electronic</text>
<text x="222" y="482.2" font-size="6" textLength="54" lengthAdjust="spacingAndGlyphs" class="b" xml:space="preserve">Roller door</text>
<text x="82.5" y="406.6" font-size="12.5" textLength="12" lengthAdjust="spacingAndGlyphs" class="b" transform="rotate(90 88.5 402.5)">HWT</text>
<text x="97.3" y="509.5" font-size="7.5" textLength="198.3" lengthAdjust="spacingAndGlyphs" class="b" xml:space="preserve">ACCESS TO GLENWAY ROAD</text>
<text x="142" y="529.8" font-size="5.5" textLength="129.2" lengthAdjust="spacingAndGlyphs" class="b" fill="#333" xml:space="preserve">Desk Top Image- (0307 JOB)</text>
</g>

<!-- SECTION: LEGEND -->
<g id="legend">
<rect class="m" x="649" y="272.5" width="108" height="39.7"/>
<text x="671.5" y="282.7" font-size="7.5" textLength="57.0" lengthAdjust="spacingAndGlyphs" class="b" xml:space="preserve">LEGEND</text>
<text x="683" y="292.4" font-size="6.3" textLength="44.700000000000045" lengthAdjust="spacingAndGlyphs" class="b" xml:space="preserve">Sky light</text>
<text x="684" y="301.9" font-size="6.3" textLength="42" lengthAdjust="spacingAndGlyphs" class="b" xml:space="preserve">Air cond</text>
<text x="684" y="308.4" font-size="6.3" textLength="25" lengthAdjust="spacingAndGlyphs" class="b" xml:space="preserve">ducts</text>
<rect x="656.5" y="286.2" width="12.5" height="6.3" rx="1" fill="#fff" stroke="#888" stroke-width="1"/>
<path d="M660 289 h2 M664 288 v2" stroke="#aaa" stroke-width="0.8" fill="none"/>
<g transform="translate(663 300.4)"><rect x="-5.8" y="-2.9" width="11.6" height="5.8" rx="1.4" fill="#fff" stroke="#111" stroke-width="1.5"/><path d="M-3.2 0 H3.2 M0 -2 V2" stroke="#111" stroke-width="1.1" fill="none"/></g>
</g>
</g>
</g>
</g>
</g>
</g>

<!-- SECTION: NOTES -->
<g id="notes">
<text x="398" y="483.2" font-size="8" textLength="195" lengthAdjust="spacingAndGlyphs" class="b" xml:space="preserve">ESTIMATE OF LIVING AREA</text>
<text x="398" y="490.9" font-size="7.5" textLength="224" lengthAdjust="spacingAndGlyphs" xml:space="preserve">221.13 Square metres/  23.77 Squares</text>
<text x="398" y="502.0" font-size="6" textLength="206" lengthAdjust="spacingAndGlyphs" class="b" text-decoration="underline" xml:space="preserve">This drawing is for illustration purposes only.</text>
<text x="398" y="508.6" font-size="6" textLength="151" lengthAdjust="spacingAndGlyphs" class="b" text-decoration="underline" xml:space="preserve">(DRAWING IS NOT TO SCALE)</text>
<text x="398" y="514.8" font-size="6" textLength="203" lengthAdjust="spacingAndGlyphs" class="b" xml:space="preserve">The drawing and the information contained is</text>
<text x="398" y="520.8" font-size="6" textLength="190" lengthAdjust="spacingAndGlyphs" class="b" xml:space="preserve">not intended to be part of any contract.  All</text>
<text x="398" y="527.2" font-size="6" textLength="232" lengthAdjust="spacingAndGlyphs" class="b" xml:space="preserve">measurements are approximate and details intended</text>
<text x="398" y="534.0" font-size="6" textLength="226" lengthAdjust="spacingAndGlyphs" class="b" xml:space="preserve">to be relied upon should be independently verified.</text>
</g>
</svg>
</body>
</html>
